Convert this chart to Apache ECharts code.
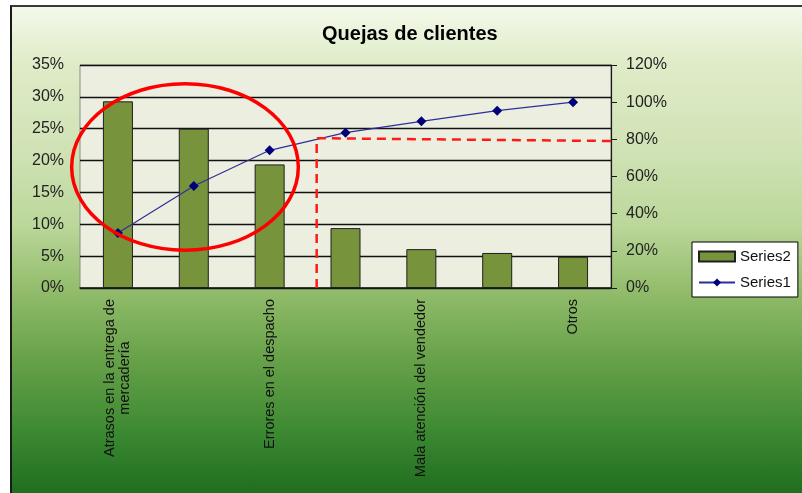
<!DOCTYPE html>
<html>
<head>
<meta charset="utf-8">
<script src="https://cdn.jsdelivr.net/npm/echarts/dist/echarts.min.js"></script>
<style>
  html, body { margin: 0; padding: 0; background: #ffffff; }
  #frame {
    position: absolute; left: 10px; top: 5px; width: 792px; height: 488px;
    border-left: 2px solid #1a1a1a; border-top: 2px solid #3a3a3a; box-sizing: border-box;
    background: linear-gradient(to bottom, #f4f9ea 0%, #e0ecc9 11%, #cfe2b4 30%, #bbd79a 45%, #93bd6c 58%, #68a24a 72%, #3e8a33 87%, #1f6e1f 100%);
  }
  #chart { position: absolute; left: 0; top: 0; width: 802px; height: 493px; }
</style>
</head>
<body>
<div id="frame"></div>
<div id="chart"></div>
<script>
// ---- data ----
const categories = ['Atrasos en la entrega de\nmercadería', '', 'Errores en el despacho', '', 'Mala atención del vendedor', '', 'Otros'];
const series2Values = [0.293, 0.250, 0.194, 0.094, 0.061, 0.055, 0.049];
const series1Values = [0.296, 0.549, 0.741, 0.836, 0.897, 0.954, 1.00];
const leftAxisMax = 0.35, leftAxisStep = 0.05;
const rightAxisMax = 1.2, rightAxisStep = 0.2;
// Pareto cut-off annotation (category-position units on a 0..7 scale, right-axis values)
const cutoffX = [3.12, 3.12, 7.0];
const cutoffY = [0.0, 0.806, 0.791];
// Highlight ellipse (centre in category-position units / left-axis value, radii in same units)
const ellipseCenter = [1.384, 0.190];
const ellipseRadii = [1.494, 0.1307];

const font = 'Liberation Sans, Arial, sans-serif';
const chart = echarts.init(document.getElementById('chart'), null, { renderer: 'canvas' });
const pct = v => Math.round(v * 100) + '%';

chart.setOption({
  animation: false,
  backgroundColor: 'transparent',
  title: {
    text: 'Quejas de clientes', left: 317, top: 19,
    textStyle: { fontFamily: font, fontSize: 20, fontWeight: 'bold', color: '#000' }
  },
  legend: {
    orient: 'vertical', left: 692, top: 242,
    backgroundColor: '#ffffff', borderColor: '#000', borderWidth: 1,
    padding: [7, 7, 7, 6], itemGap: 11, itemWidth: 36, itemHeight: 10,
    textStyle: { fontFamily: font, fontSize: 15, color: '#111' },
    data: [{ name: 'Series2', icon: 'rect' }, { name: 'Series1' }]
  },
  grid: {
    left: 80, right: 191, top: 65, bottom: 205, show: true,
    backgroundColor: '#ecefe0', borderColor: '#8a8a8a', borderWidth: 1
  },
  xAxis: [{
    type: 'category', data: categories, boundaryGap: true,
    axisLine: { lineStyle: { color: '#1a1a1a', width: 1.5 } },
    axisTick: { show: false },
    axisLabel: {
      interval: 0, rotate: 90, margin: 11, color: '#111', fontFamily: font, fontSize: 14,
      formatter: v => v.split('\n').map(s => '{c|' + s + '}').join('\n'),
      rich: { c: { align: 'center', fontFamily: font, fontSize: 14.5, color: '#111', lineHeight: 15 } }
    }
  }, {
    type: 'value', min: 0, max: 7, show: false
  }],
  yAxis: [{
    type: 'value', min: 0, max: leftAxisMax, interval: leftAxisStep,
    axisLine: { show: false }, axisTick: { show: false },
    axisLabel: { formatter: pct, margin: 16, color: '#222', fontFamily: font, fontSize: 16 },
    splitLine: { lineStyle: { color: '#111', width: 1.3 } }
  }, {
    type: 'value', min: 0, max: rightAxisMax, interval: rightAxisStep, position: 'right',
    axisLine: { show: true, lineStyle: { color: '#1a1a1a', width: 1.2 } },
    axisTick: { show: true, length: 6, lineStyle: { color: '#1a1a1a' } },
    axisLabel: { formatter: pct, margin: 15, color: '#222', fontFamily: font, fontSize: 16 },
    splitLine: { show: false }
  }],
  series: [{
    name: 'Series2', type: 'bar', data: series2Values, barWidth: 30,
    itemStyle: { color: '#77933c', borderColor: '#1f1f1f', borderWidth: 1 }
  }, {
    name: 'Series1', type: 'line', yAxisIndex: 1, data: series1Values,
    symbol: 'diamond', symbolSize: 10,
    lineStyle: { color: '#2e2e9a', width: 1.2 },
    itemStyle: { color: '#00007a' }
  }, {
    name: 'cutoff', type: 'line', xAxisIndex: 1, yAxisIndex: 1,
    data: cutoffX.map((x, i) => [x, cutoffY[i]]),
    symbol: 'none', silent: true,
    lineStyle: { color: '#ff1a1a', width: 2.5, type: [9, 6] }
  }]
});

const cx = chart.convertToPixel({ xAxisIndex: 1 }, ellipseCenter[0]);
const cy = chart.convertToPixel({ yAxisIndex: 0 }, ellipseCenter[1]);
const rx = chart.convertToPixel({ xAxisIndex: 1 }, ellipseCenter[0] + ellipseRadii[0]) - cx;
const ry = cy - chart.convertToPixel({ yAxisIndex: 0 }, ellipseCenter[1] + ellipseRadii[1]);
chart.setOption({
  graphic: [{
    type: 'ellipse', z: 100, silent: true,
    shape: { cx: cx, cy: cy, rx: rx, ry: ry },
    style: { fill: null, stroke: '#ff0000', lineWidth: 3.5 }
  }]
});
</script>
</body>
</html>
